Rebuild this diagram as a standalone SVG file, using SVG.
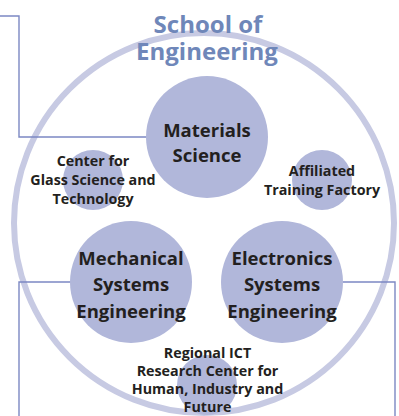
<svg xmlns="http://www.w3.org/2000/svg" width="399" height="416" viewBox="0 0 399 416">
<style>
.ring{fill:none;stroke:#c7cae3;stroke-width:6}
.node{fill:#b1b7da}
.conn{fill:none;stroke:#7c88c3;stroke-width:1.4}
.title{font-family:"Open Sans","Noto Sans",sans-serif;font-weight:700;font-size:24px;fill:#6f87b9;text-anchor:middle}
.big{font-family:"Open Sans","Noto Sans",sans-serif;font-weight:700;font-size:18.5px;fill:#231f20;text-anchor:middle}
.small{font-family:"Open Sans","Noto Sans",sans-serif;font-weight:700;font-size:14.3px;fill:#231f20;text-anchor:middle}
</style>
<rect width="399" height="416" fill="#ffffff"/>
<g id="school">
<circle class="ring" cx="204" cy="223" r="190"/>
</g>
<g id="connectors">
<polyline class="conn" points="0,16 19,16 19,137 147,137"/>
<polyline class="conn" points="71,282 19,282 19,416"/>
<polyline class="conn" points="343,282 395,282 395,416"/>
</g>
<g id="materials">
<circle class="node" cx="207" cy="137" r="61"/>
<text class="big" x="207" y="137">Materials</text>
<text class="big" x="207" y="162">Science</text>
</g>
<g id="glass">
<circle class="node" cx="93" cy="180" r="30"/>
<text class="small" x="93" y="166">Center for</text>
<text class="small" x="93" y="185">Glass Science and</text>
<text class="small" x="93" y="204">Technology</text>
</g>
<g id="factory">
<circle class="node" cx="322" cy="180" r="30"/>
<text class="small" x="322" y="176">Affiliated</text>
<text class="small" x="322" y="195">Training Factory</text>
</g>
<g id="mechanical">
<circle class="node" cx="131" cy="282" r="61"/>
<text class="big" x="131" y="265">Mechanical</text>
<text class="big" x="131" y="291">Systems</text>
<text class="big" x="131" y="318">Engineering</text>
</g>
<g id="electronics">
<circle class="node" cx="282" cy="282" r="61"/>
<text class="big" x="282" y="265">Electronics</text>
<text class="big" x="282" y="291">Systems</text>
<text class="big" x="282" y="318">Engineering</text>
</g>
<g id="ict">
<circle class="node" cx="207" cy="385" r="30"/>
<text class="small" x="207.5" y="358">Regional ICT</text>
<text class="small" x="207.5" y="376">Research Center for</text>
<text class="small" x="207.5" y="394">Human, Industry and</text>
<text class="small" x="207.5" y="412">Future</text>
</g>
<g id="title">
<text class="title" x="208" y="33">School of</text>
<text class="title" x="207" y="60">Engineering</text>
</g>
</svg>
